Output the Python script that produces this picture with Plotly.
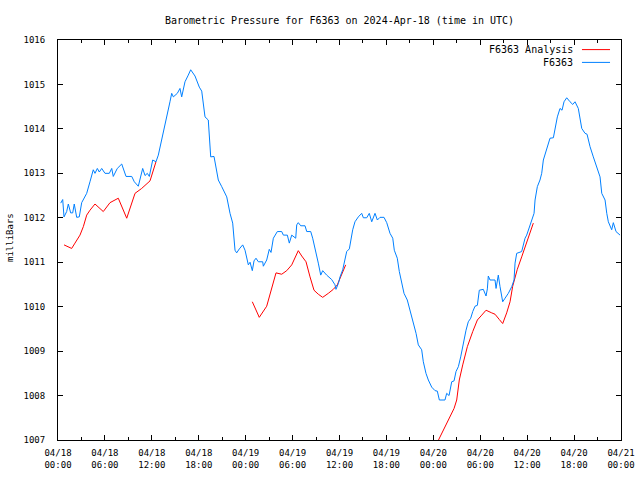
import pandas as pd
import plotly.graph_objects as go

BASE = pd.Timestamp("2024-04-18 00:00")

# F6363 observations: hours since 2024-04-18 00:00 UTC, pressure (mb)
obs_hours = [0.35, 0.60, 0.77, 1.11, 1.32, 1.62, 1.88, 2.08, 2.39, 2.72, 3.03, 3.67, 4.09, 4.51, 4.73,
             5.03, 5.28, 5.59, 6.01, 6.56, 6.87, 7.07, 7.58, 8.15, 8.70, 9.43, 9.76, 10.27, 10.83, 11.13,
             11.42, 11.68, 12.11, 12.53, 12.83, 13.47, 13.90, 14.32, 14.54, 14.75, 15.26, 15.60, 15.82,
             16.24, 16.66, 16.97, 17.52, 18.07, 18.38, 18.80, 19.22, 19.53, 19.95, 20.50, 20.94, 21.58,
             22.00, 22.34, 22.64, 22.85, 23.19, 23.62, 23.92, 24.34, 24.56, 24.85, 25.07, 25.32, 25.62,
             26.18, 26.26, 26.69, 27.02, 27.24, 27.54, 28.05, 28.61, 28.82, 29.33, 29.58, 29.89, 30.40,
             30.53, 30.73, 31.04, 31.59, 31.81, 32.32, 32.57, 32.87, 33.29, 33.60, 33.85, 34.36, 35.00,
             35.43, 35.55, 35.85, 36.07, 36.41, 36.71, 36.92, 37.26, 37.69, 37.98, 38.41, 38.84, 39.05,
             39.48, 39.81, 40.12, 40.54, 40.84, 41.18, 41.69, 42.04, 42.46, 42.81, 43.01, 43.39, 43.65,
             43.96, 44.25, 44.67, 45.02, 45.44, 45.79, 46.08, 46.51, 46.72, 47.06, 47.36, 47.79, 48.22,
             48.51, 48.77, 49.49, 49.71, 50.01, 50.35, 50.65, 50.90, 51.20, 51.50, 51.84, 52.18, 52.47,
             52.78, 53.04, 53.33, 53.63, 53.88, 54.39, 54.74, 54.91, 55.03, 55.25, 55.89, 56.02, 56.31,
             56.53, 56.87, 57.17, 57.59, 58.03, 58.32, 58.45, 58.66, 59.30, 59.73, 59.94, 60.28, 60.58,
             60.88, 61.01, 61.30, 61.64, 61.86, 62.07, 62.50, 62.92, 63.35, 63.56, 63.86, 64.20, 64.46,
             64.71, 65.06, 65.48, 65.83, 66.12, 66.54, 66.98, 67.40, 67.66, 68.04, 68.46, 68.90, 69.32,
             69.54, 69.96, 70.18, 70.38, 70.81, 71.02, 71.36, 71.88]
obs_mb = [1012.33, 1012.41, 1012.02, 1012.14, 1012.31, 1012.11, 1012.11, 1012.31, 1012.01, 1012.02,
          1012.34, 1012.55, 1012.81, 1013.08, 1013.00, 1013.11, 1013.03, 1013.11, 1013.00, 1013.00,
          1013.11, 1012.93, 1013.11, 1013.21, 1012.93, 1012.93, 1012.81, 1012.71, 1013.11, 1012.95,
          1013.00, 1012.93, 1013.30, 1013.26, 1013.41, 1013.90, 1014.24, 1014.61, 1014.80, 1014.72,
          1014.80, 1014.91, 1014.72, 1015.06, 1015.21, 1015.33, 1015.19, 1014.94, 1014.85, 1014.27,
          1014.20, 1013.37, 1013.38, 1012.85, 1012.70, 1012.47, 1012.10, 1011.88, 1011.27, 1011.21,
          1011.30, 1011.39, 1011.27, 1010.94, 1011.00, 1010.81, 1011.03, 1011.09, 1011.01, 1011.01,
          1010.91, 1011.05, 1011.29, 1011.22, 1011.54, 1011.69, 1011.69, 1011.61, 1011.61, 1011.43,
          1011.61, 1011.54, 1011.84, 1011.89, 1011.82, 1011.82, 1011.69, 1011.69, 1011.54, 1011.27,
          1010.98, 1010.71, 1010.81, 1010.71, 1010.61, 1010.49, 1010.39, 1010.52, 1010.67, 1010.83,
          1011.12, 1011.24, 1011.30, 1011.73, 1011.91, 1012.02, 1012.10, 1012.00, 1012.00, 1012.10,
          1011.91, 1012.10, 1011.95, 1012.01, 1012.01, 1011.89, 1011.65, 1011.54, 1011.27, 1011.09,
          1010.79, 1010.53, 1010.30, 1010.15, 1009.92, 1009.62, 1009.40, 1009.14, 1009.03, 1008.76,
          1008.50, 1008.35, 1008.19, 1008.11, 1008.10, 1007.90, 1007.90, 1008.05, 1008.00, 1008.31,
          1008.33, 1008.54, 1008.65, 1008.87, 1009.18, 1009.47, 1009.66, 1009.74, 1009.89, 1010.01,
          1010.03, 1010.37, 1010.39, 1010.24, 1010.40, 1010.69, 1010.60, 1010.60, 1010.41, 1010.71,
          1010.45, 1010.11, 1010.19, 1010.30, 1010.45, 1010.60, 1010.98, 1011.20, 1011.24, 1011.54,
          1011.61, 1011.80, 1011.96, 1012.10, 1012.40, 1012.70, 1012.85, 1013.00, 1013.30, 1013.56,
          1013.79, 1013.80, 1013.97, 1014.27, 1014.46, 1014.42, 1014.61, 1014.70, 1014.61, 1014.55,
          1014.61, 1014.46, 1014.01, 1013.90, 1013.88, 1013.60, 1013.37, 1013.15, 1012.92, 1012.55,
          1012.40, 1012.10, 1011.91, 1011.73, 1011.89, 1011.69, 1011.61]

# F6363 Analysis: three separate runs
ana1_hours = [0.77, 1.75, 2.17, 2.81, 3.24, 3.67, 4.09, 4.73, 5.79, 6.65, 7.71, 8.79, 9.85, 10.70,
              11.77, 12.19, 12.53]
ana1_mb = [1011.39, 1011.31, 1011.43, 1011.61, 1011.80, 1012.06, 1012.17, 1012.31, 1012.14, 1012.34,
           1012.44, 1011.99, 1012.55, 1012.66, 1012.83, 1013.08, 1013.26]
ana2_hours = [24.85, 25.74, 26.69, 27.33, 27.88, 28.61, 29.25, 29.89, 30.31, 30.73, 31.17, 31.72,
              32.23, 32.74, 33.29, 33.85, 34.57, 35.21, 35.72, 36.28, 36.79]
ana2_mb = [1010.11, 1009.76, 1010.01, 1010.45, 1010.76, 1010.73, 1010.81, 1010.94, 1011.09, 1011.26,
           1011.14, 1011.01, 1010.67, 1010.37, 1010.28, 1010.21, 1010.30, 1010.39, 1010.49, 1010.71,
           1010.94]
ana3_hours = [47.96, 48.77, 49.71, 50.65, 50.99, 51.32, 51.76, 52.35, 53.04, 53.63, 54.19, 54.74,
              55.47, 55.89, 56.44, 56.87, 57.38, 57.81, 58.15, 58.74, 59.30, 59.85, 60.28, 60.79]
ana3_mb = [1006.75, 1007.04, 1007.37, 1007.71, 1007.90, 1008.35, 1008.69, 1009.10, 1009.44, 1009.70,
           1009.81, 1009.92, 1009.86, 1009.83, 1009.71, 1009.62, 1009.86, 1010.11, 1010.46, 1010.84,
           1011.12, 1011.39, 1011.65, 1011.88]

FONT = "DejaVu Sans Mono"
RED = "#ff0000"
BLUE = "#0080ff"


def to_time(hours):
    return [BASE + pd.Timedelta(hours=h) for h in hours]


ana_x, ana_y = [], []
for hs, ys in [(ana1_hours, ana1_mb), (ana2_hours, ana2_mb), (ana3_hours, ana3_mb)]:
    ana_x += to_time(hs) + [None]
    ana_y += ys + [None]

fig = go.Figure()
fig.add_trace(go.Scatter(x=ana_x, y=ana_y, mode="lines", name="F6363 Analysis",
                         line=dict(color=RED, width=1), connectgaps=False))
fig.add_trace(go.Scatter(x=to_time(obs_hours), y=obs_mb, mode="lines", name="F6363",
                         line=dict(color=BLUE, width=1)))

fig.update_layout(
    width=640, height=480,
    margin=dict(l=58, r=19, t=40, b=40, autoexpand=False),
    paper_bgcolor="white", plot_bgcolor="white",
    showlegend=False,
    font=dict(family=FONT, size=9, color="black"),
    title=dict(text="Barometric Pressure for F6363 on 2024-Apr-18 (time in UTC)",
               font=dict(family=FONT, size=10, color="black"),
               x=0.5, xref="paper", xanchor="center",
               y=1 - 20 / 480, yref="container", yanchor="middle"),
)
fig.update_xaxes(
    type="date", automargin=False,
    range=[BASE, BASE + pd.Timedelta(hours=72)],
    tick0=BASE, dtick=6 * 3600 * 1000,
    tickformat="%m/%d<br>%H:%M",
    ticks="inside", ticklen=5, tickcolor="black",
    minor=dict(ticks="inside", ticklen=3, dtick=3 * 3600 * 1000, tickcolor="black"),
    showline=True, linecolor="black", linewidth=1, mirror="ticks",
    showgrid=False, zeroline=False,
    tickfont=dict(family=FONT, size=9),
    ticklabelstandoff=4,
)
fig.update_yaxes(
    automargin=False,
    range=[1007, 1016], dtick=1, tick0=1007, tickformat="d",
    ticks="inside", ticklen=5, tickcolor="black",
    showline=True, linecolor="black", linewidth=1, mirror="ticks",
    showgrid=False, zeroline=False,
    tickfont=dict(family=FONT, size=9),
    ticklabelstandoff=10,
)

# y-axis title
fig.add_annotation(text="milliBars", textangle=-90, xref="paper", yref="paper",
                   x=0, y=0.505, xanchor="center", yanchor="middle", xshift=-48,
                   showarrow=False, font=dict(family=FONT, size=9))

# legend (text left of sample line, as in the reference)
legend_items = [("F6363 Analysis", RED, 0.976), ("F6363", BLUE, 0.944)]
for label, color, ly in legend_items:
    fig.add_annotation(text=label, xref="paper", yref="paper", x=0.918, y=ly,
                       xanchor="right", yanchor="middle", showarrow=False,
                       font=dict(family=FONT, size=10))
    fig.add_shape(type="line", xref="paper", yref="paper", x0=0.9307, x1=0.9805,
                  y0=ly, y1=ly, line=dict(color=color, width=1))

fig.write_html("out.html", config={"displayModeBar": False},
               post_script="document.body.style.margin='0';document.body.style.overflow='hidden';")
